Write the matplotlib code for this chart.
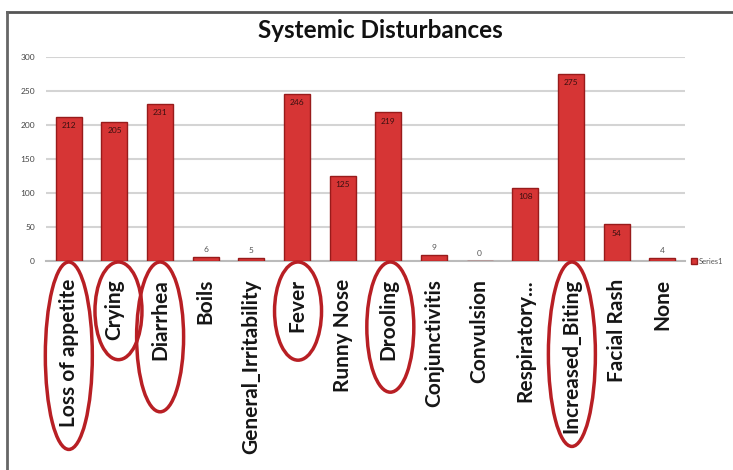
import matplotlib
matplotlib.use('Agg')
import matplotlib.pyplot as plt
from matplotlib.patches import Ellipse
from matplotlib.lines import Line2D

plt.rcParams['font.family'] = ['Lato', 'DejaVu Sans']

# symptom counts
categories = ['Loss of appetite', 'Crying', 'Diarrhea', 'Boils', 'General_Irritability',
              'Fever', 'Runny Nose', 'Drooling', 'Conjunctivitis', 'Convulsion',
              'Respiratory...', 'Increased_Biting', 'Facial Rash', 'None']
counts = [212, 205, 231, 6, 5, 246, 125, 219, 9, 0, 108, 275, 54, 4]
highlighted = ['Loss of appetite', 'Crying', 'Diarrhea', 'Fever', 'Drooling', 'Increased_Biting']
y_ticks = [0, 50, 100, 150, 200, 250, 300]

# how far each hand-drawn ring reaches below its label (px) and its x nudge
ring_depth = {'Loss of appetite': 22, 'Crying': 20, 'Diarrhea': 52, 'Fever': 28,
              'Drooling': 32, 'Increased_Biting': 13}
ring_shift = {'Loss of appetite': 0, 'Crying': 4, 'Diarrhea': 0, 'Fever': 1,
              'Drooling': 2, 'Increased_Biting': 1}

W, H = 733, 470
fig = plt.figure(figsize=(W / 100, H / 100), dpi=100)
ax = fig.add_axes([46 / W, 1 - 261 / H, 639 / W, 204 / H])

x = range(len(categories))
bars = ax.bar(x, counts, width=0.57, color='#d63535', edgecolor='#981b1b', linewidth=1.0,
              label='Series1', zorder=3)

for b, v in zip(bars, counts):
    cx = b.get_x() + b.get_width() / 2
    if v > 40:
        ax.text(cx, v - 8, str(v), ha='center', va='top', fontsize=6, color='#3a1010', zorder=4)
    else:
        ax.text(cx, v + 6, str(v), ha='center', va='bottom', fontsize=6, color='#555555', zorder=4)

ax.set_xlim(-0.5, len(categories) - 0.5)
ax.set_ylim(0, 300)
ax.set_yticks(y_ticks)
ax.tick_params(axis='y', labelsize=6, colors='#444444', length=0, pad=8)
ax.tick_params(axis='x', length=0, pad=13)
ax.set_xticks(list(x))
ax.set_xticklabels(categories, rotation=90, fontsize=15, fontweight='bold', color='#161616')
ax.grid(axis='y', color='#d4d4d4', linewidth=1.5, zorder=0)
for s in ['top', 'right', 'left']:
    ax.spines[s].set_visible(False)
ax.spines['bottom'].set_color('#bbbbbb')
ax.spines['bottom'].set_linewidth(1.5)

ax.legend(loc='center left', bbox_to_anchor=(1.01, 0.0), frameon=False, fontsize=5.5,
          handlelength=0.7, handleheight=0.7, labelcolor='#555555', handletextpad=0.3,
          borderaxespad=0.0, borderpad=0.0)

fig.text(0.519, 1 - 30 / H, 'Systemic Disturbances', ha='center', va='center',
         fontsize=17.5, fontweight='bold', color='#111111')

# frame around the chart
fig.add_artist(Line2D([7 / W, 1], [1 - 12 / H, 1 - 12 / H], transform=fig.transFigure,
                      color='#555555', linewidth=2))
fig.add_artist(Line2D([7 / W, 7 / W], [0, 1 - 12 / H], transform=fig.transFigure,
                      color='#666666', linewidth=2))

# red rings around the highlighted labels
fig.canvas.draw()
renderer = fig.canvas.get_renderer()
for lbl in ax.get_xticklabels():
    name = lbl.get_text()
    if name not in highlighted:
        continue
    bb = lbl.get_window_extent(renderer)
    cx = (bb.x0 + bb.x1) / 2 + ring_shift[name]
    top = 1 - 262 / H
    bottom = (bb.y0 - ring_depth[name]) / H
    w = (bb.width + 27) / W
    e = Ellipse((cx / W, (top + bottom) / 2), w, top - bottom, transform=fig.transFigure,
                fill=False, edgecolor='#b81f24', linewidth=2.5)
    fig.add_artist(e)

fig.savefig('out.png', dpi=100, facecolor='white')
